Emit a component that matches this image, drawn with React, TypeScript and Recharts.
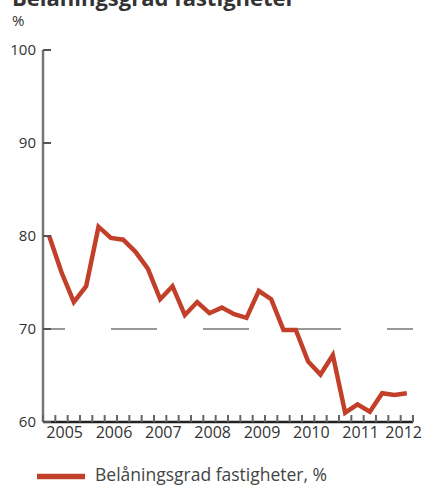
import React from "react";
import { LineChart, Line, XAxis, YAxis, ReferenceLine } from "recharts";

// Loan-to-value ratio, commercial property, quarterly 2005Q1 - 2012Q2
const START_YEAR = 2005;
const YEARS = [2005, 2006, 2007, 2008, 2009, 2010, 2011, 2012];
const VALUES = [
  80.0, 76.1, 72.9, 74.6, 81.0, 79.8, 79.6, 78.3, 76.5, 73.2,
  74.6, 71.5, 72.9, 71.7, 72.3, 71.6, 71.2, 74.1, 73.2, 69.9,
  69.9, 66.5, 65.1, 67.2, 61.0, 61.9, 61.1, 63.1, 62.9, 63.1,
];
const Y_TICKS = [60, 70, 80, 90, 100];
const TITLE = "Belåningsgrad fastigheter";
const SERIES_NAME = "Belåningsgrad fastigheter, %";

const FONT = "'Open Sans', 'Noto Sans', sans-serif";
const RED = "#C2402A";
const TEXT = "#333";

const data = VALUES.map((v, i) => ({
  q: i + 0.5,
  year: START_YEAR + Math.floor(i / 4),
  value: v,
}));

const quarterTicks = Array.from({ length: VALUES.length + 1 }, (_, i) => i);

// year label sits at the middle of the quarters belonging to that year
const yearAt: Record<number, { year: number; last: boolean }> = {};
YEARS.forEach((yr, i) => {
  const qs = data.filter((d) => d.year === yr).map((d) => d.q);
  if (qs.length)
    yearAt[qs.reduce((a, b) => a + b, 0) / qs.length] = { year: yr, last: i === YEARS.length - 1 };
});

const XTick = ({ x, y, payload }: any) => {
  const lbl = yearAt[payload.value];
  return (
    <g>
      <line x1={x} x2={x} y1={y} y2={y - 7} stroke="#666" strokeWidth={2} />
      {lbl && (
        <text
          x={lbl.last ? x + 3 : x - 3}
          y={y + 16}
          textAnchor="middle"
          fill={TEXT}
          fontSize={16}
          fontFamily={FONT}
        >
          {lbl.year}
        </text>
      )}
    </g>
  );
};

const YTick = ({ x, y, payload }: any) => (
  <g>
    <line x1={x + 7} x2={x + 15} y1={y} y2={y} stroke="#555" strokeWidth={2} />
    <text x={x} y={y} dy={5} textAnchor="end" fill={TEXT} fontSize={15} fontFamily={FONT}>
      {payload.value}
    </text>
  </g>
);

export default function App() {
  return (
    <div style={{ position: "absolute", left: 0, top: 0, width: 423, height: 485, fontFamily: FONT }}>
      <svg width={423} height={485} style={{ position: "absolute", left: 0, top: 0 }}>
        <text x={12} y={6} fontSize={22} fontWeight="bold" fill={TEXT} fontFamily={FONT}>
          {TITLE}
        </text>
        <text x={12} y={26} fontSize={15} fill={TEXT} fontFamily={FONT}>
          %
        </text>
        <line x1={37} x2={85} y1={476.5} y2={476.5} stroke={RED} strokeWidth={5.5} />
        <text x={95} y={481} fontSize={17.5} fill="#444" fontFamily={FONT}>
          {SERIES_NAME}
        </text>
      </svg>
      <div style={{ position: "absolute", left: 0, top: 0 }}>
        <LineChart width={423} height={485} data={data} margin={{ top: 50, right: 10, bottom: 33, left: 0 }}>
          <XAxis
            dataKey="q"
            type="number"
            domain={[0, VALUES.length]}
            ticks={quarterTicks}
            interval={0}
            height={30}
            tickSize={0}
            tickMargin={0}
            tickLine={false}
            tick={<XTick />}
            axisLine={{ stroke: "#222", strokeWidth: 2.5 }}
          />
          <YAxis
            type="number"
            domain={[60, 100]}
            ticks={Y_TICKS}
            interval={0}
            width={43}
            tickSize={0}
            tickMargin={7}
            tickLine={false}
            tick={<YTick />}
            axisLine={{ stroke: "#777", strokeWidth: 2.5 }}
          />
          <ReferenceLine
            y={70}
            stroke="#777"
            strokeWidth={1.5}
            strokeDasharray="46 46"
            strokeDashoffset={24}
          />
          <Line
            type="linear"
            dataKey="value"
            stroke={RED}
            strokeWidth={4.5}
            dot={false}
            isAnimationActive={false}
          />
        </LineChart>
      </div>
    </div>
  );
}
